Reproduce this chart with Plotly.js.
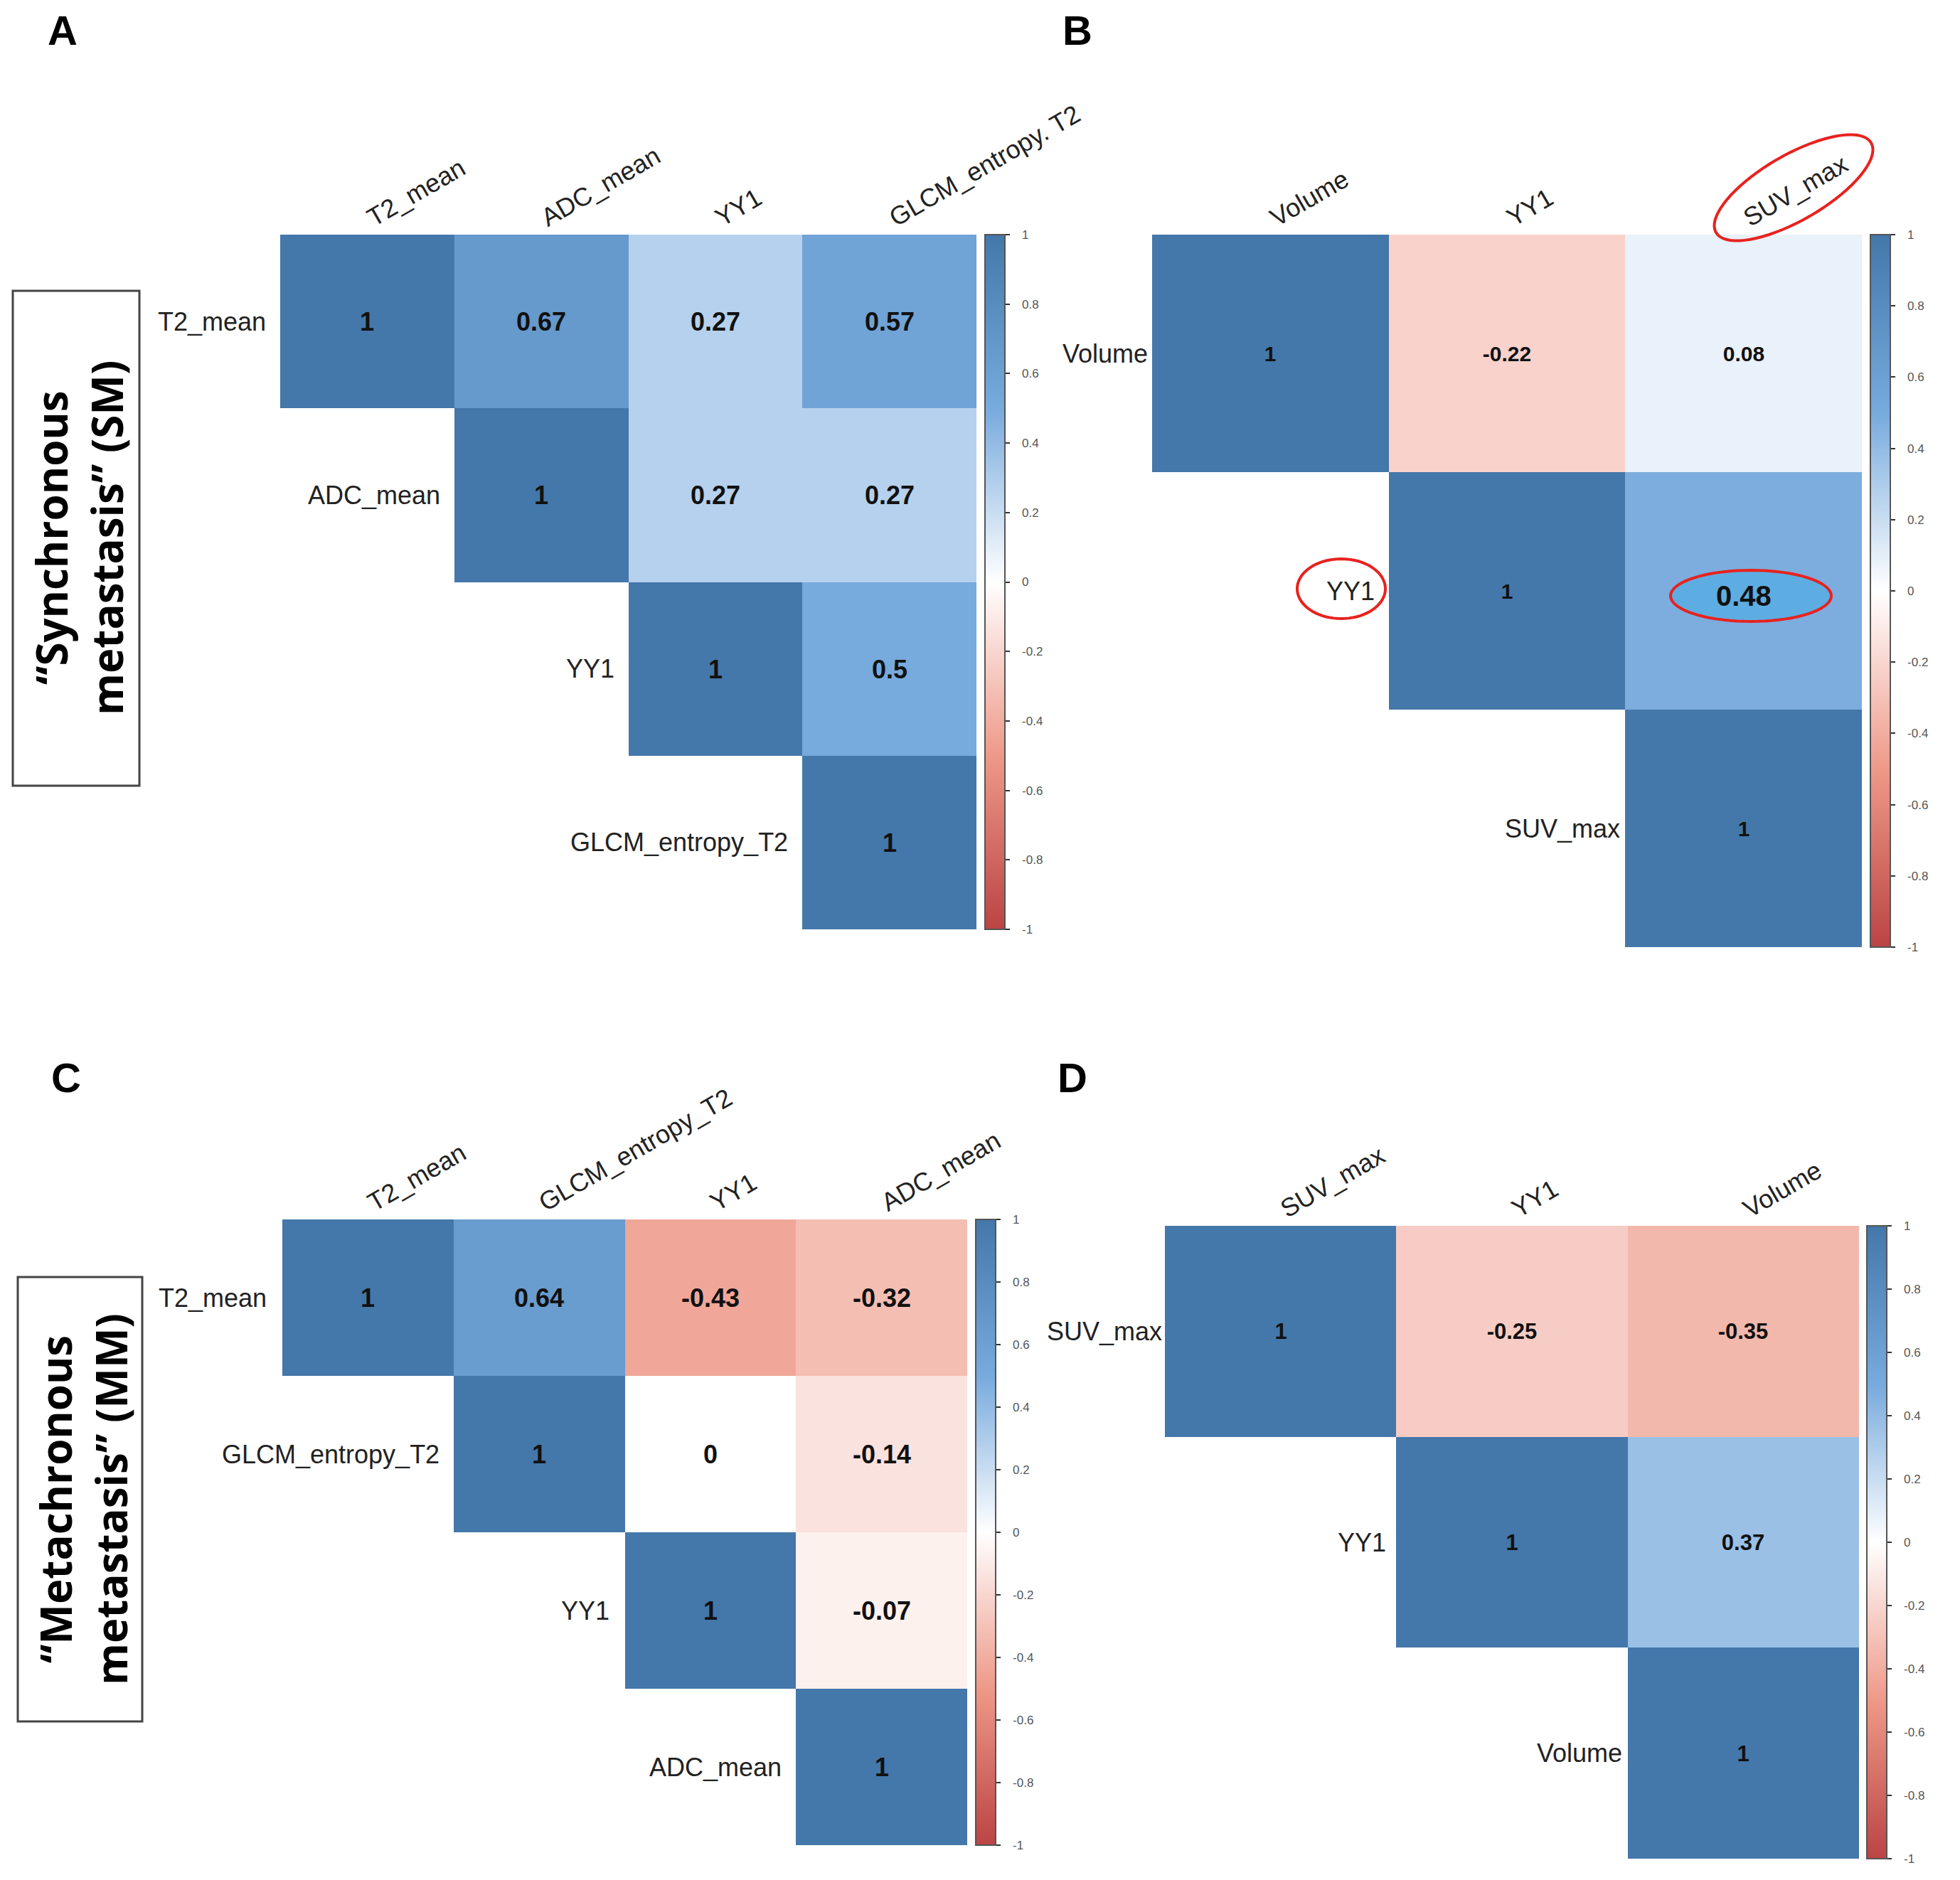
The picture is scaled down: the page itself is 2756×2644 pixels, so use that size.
<!DOCTYPE html>
<html>
<head>
<meta charset="utf-8">
<script src="https://cdn.plot.ly/plotly-3.0.1.min.js"></script>
<style>html,body{margin:0;padding:0;background:#fff;}#chart{width:2756px;height:2644px;}</style>
</head>
<body>
<div id="chart"></div>
<script>
// ---------- data ----------
const rowLabelsA = ['T2_mean', 'ADC_mean', 'YY1', 'GLCM_entropy_T2'];
const colLabelsA = ['T2_mean', 'ADC_mean', 'YY1', 'GLCM_entropy. T2'];
const valuesA = [
  [1, 0.67, 0.27, 0.57],
  [null, 1, 0.27, 0.27],
  [null, null, 1, 0.5],
  [null, null, null, 1]
];
const rowLabelsB = ['Volume', 'YY1', 'SUV_max'];
const colLabelsB = ['Volume', 'YY1', 'SUV_max'];
const valuesB = [
  [1, -0.22, 0.08],
  [null, 1, 0.48],
  [null, null, 1]
];
const rowLabelsC = ['T2_mean', 'GLCM_entropy_T2', 'YY1', 'ADC_mean'];
const colLabelsC = ['T2_mean', 'GLCM_entropy_T2', 'YY1', 'ADC_mean'];
const valuesC = [
  [1, 0.64, -0.43, -0.32],
  [null, 1, 0, -0.14],
  [null, null, 1, -0.07],
  [null, null, null, 1]
];
const rowLabelsD = ['SUV_max', 'YY1', 'Volume'];
const colLabelsD = ['SUV_max', 'YY1', 'Volume'];
const valuesD = [
  [1, -0.25, -0.35],
  [null, 1, 0.37],
  [null, null, 1]
];
const panelLetters = ['A', 'B', 'C', 'D'];
const groupTitles = ['“Synchronous<br>metastasis” (SM)', '“Metachronous<br>metastasis” (MM)'];
const cbTickVals = [1, 0.8, 0.6, 0.4, 0.2, 0, -0.2, -0.4, -0.6, -0.8, -1];
const cbTickText = ['1', '0.8', '0.6', '0.4', '0.2', '0', '-0.2', '-0.4', '-0.6', '-0.8', '-1'];

// ---------- layout geometry (pixels) ----------
const W = 2756, H = 2644;
const fx = p => p / W;
const fy = p => 1 - p / H;
const colorscale = [[0, '#BB4444'], [0.25, '#EE9988'], [0.5, '#FFFFFF'], [0.75, '#77AADD'], [1, '#4477AA']];
const LABEL_FONT = 'Liberation Sans, Arial, sans-serif';
const NBSP = '\u00a0\u00a0\u00a0';

const panels = [
  {rows: rowLabelsA, cols: colLabelsA, vals: valuesA, box: [394, 1373, 330, 1307], cb: 1385, cellFont: 36, gaps: [18, 18, 18, 18], skip: null},
  {rows: rowLabelsB, cols: colLabelsB, vals: valuesB, box: [1620, 2618, 330, 1332], cb: 2630, cellFont: 30, gaps: [4, 18, 5], skip: [1, 2]},
  {rows: rowLabelsC, cols: colLabelsC, vals: valuesC, box: [397, 1360, 1715, 2595], cb: 1372, cellFont: 36, gaps: [20, 18, 20, 18], skip: null},
  {rows: rowLabelsD, cols: colLabelsD, vals: valuesD, box: [1638, 2614, 1724, 2614], cb: 2625, cellFont: 31, gaps: [2, 12, 6], skip: null}
];

const traces = [];
const annotations = [];
const shapes = [];
const layout = {
  width: W, height: H,
  margin: {l: 0, r: 0, t: 0, b: 0},
  paper_bgcolor: '#fff', plot_bgcolor: 'rgba(0,0,0,0)',
  showlegend: false,
  annotations: annotations, shapes: shapes
};

panels.forEach((p, k) => {
  const n = p.rows.length;
  const sfx = k === 0 ? '' : String(k + 1);
  const idx = [...Array(n).keys()];
  const text = p.vals.map((r, i) => r.map((v, j) => {
    if (v === null) return '';
    if (p.skip && p.skip[0] === i && p.skip[1] === j) return '';
    return String(v);
  }));
  traces.push({
    type: 'heatmap', x: idx, y: idx, z: p.vals, text: text,
    texttemplate: '%{text}',
    textfont: {family: LABEL_FONT, size: p.cellFont, color: '#111', weight: 'bold'},
    xaxis: 'x' + sfx, yaxis: 'y' + sfx,
    zmin: -1, zmax: 1, colorscale: colorscale, hoverinfo: 'skip',
    xgap: 0, ygap: 0,
    colorbar: {
      x: fx(p.cb), xanchor: 'left', y: fy(p.box[2]), yanchor: 'top',
      len: p.box[3] - p.box[2], lenmode: 'pixels',
      thickness: 28, thicknessmode: 'pixels', xpad: 0, ypad: 0,
      outlinewidth: 2, outlinecolor: '#555',
      tickvals: cbTickVals, ticktext: cbTickText.map(t => NBSP + t),
      ticks: 'outside', ticklen: 6, tickwidth: 2, tickcolor: '#333',
      tickfont: {family: LABEL_FONT, size: 17, color: '#555'}
    }
  });
  layout['xaxis' + sfx] = {
    domain: [fx(p.box[0]), fx(p.box[1])], anchor: 'y' + sfx,
    range: [-0.5, n - 0.5], side: 'top',
    tickvals: idx, ticktext: p.cols, tickangle: -30,
    tickfont: {family: LABEL_FONT, size: 36, color: '#222'},
    showgrid: false, zeroline: false, showline: false, ticks: '', fixedrange: true
  };
  layout['yaxis' + sfx] = {
    domain: [fy(p.box[3]), fy(p.box[2])], anchor: 'x' + sfx,
    range: [n - 0.5, -0.5], showticklabels: false,
    showgrid: false, zeroline: false, showline: false, ticks: '', fixedrange: true
  };
  // row labels next to diagonal cells
  p.rows.forEach((lab, i) => {
    annotations.push({
      xref: 'x' + sfx, yref: 'y' + sfx, x: i - 0.5, y: i, text: lab,
      xanchor: 'right', yanchor: 'middle', xshift: -p.gaps[i], showarrow: false,
      font: {family: LABEL_FONT, size: 36, color: '#222'}
    });
  });
});

// panel letters
const letterPos = [[88, 42], [1515, 42], [93, 1515], [1508, 1515]];
panelLetters.forEach((L, i) => {
  annotations.push({
    xref: 'paper', yref: 'paper', x: fx(letterPos[i][0]), y: fy(letterPos[i][1]),
    xanchor: 'center', yanchor: 'middle', text: L, showarrow: false,
    font: {family: LABEL_FONT, size: 58, color: '#000', weight: 'bold'}
  });
});

// group boxes with rotated titles
const groupBoxes = [[18, 196, 409, 1105], [25, 200, 1796, 2421]];
groupBoxes.forEach((b, i) => {
  shapes.push({type: 'rect', xref: 'paper', yref: 'paper', x0: fx(b[0]), x1: fx(b[1]), y0: fy(b[3]), y1: fy(b[2]),
    line: {color: '#444', width: 3}, fillcolor: 'rgba(0,0,0,0)'});
  annotations.push({
    xref: 'paper', yref: 'paper', x: fx((b[0] + b[1]) / 2 + 4), y: fy((b[2] + b[3]) / 2),
    xanchor: 'center', yanchor: 'middle', textangle: -90, align: 'center',
    text: groupTitles[i], showarrow: false,
    font: {family: 'Open Sans, sans-serif', size: 60, color: '#000', weight: 700}
  });
});

// red highlight ellipses in panel B
function ellipsePath(cx, cy, a, b, angDeg) {
  const t = angDeg * Math.PI / 180;
  let d = '';
  for (let i = 0; i <= 72; i++) {
    const u = i / 72 * 2 * Math.PI;
    const ex = a * Math.cos(u), ey = b * Math.sin(u);
    const px = cx + ex * Math.cos(t) + ey * Math.sin(t);
    const py = cy - ex * Math.sin(t) + ey * Math.cos(t);
    d += (i === 0 ? 'M' : 'L') + fx(px).toFixed(5) + ',' + fy(py).toFixed(5);
  }
  return d + 'Z';
}
shapes.push({type: 'path', xref: 'paper', yref: 'paper', path: ellipsePath(2522, 264, 126, 46, 30),
  line: {color: '#E8221E', width: 4}, fillcolor: 'rgba(0,0,0,0)', layer: 'above'});
shapes.push({type: 'path', xref: 'paper', yref: 'paper', path: ellipsePath(1886, 828, 62, 42, 0),
  line: {color: '#E8221E', width: 4}, fillcolor: 'rgba(0,0,0,0)', layer: 'above'});
shapes.push({type: 'path', xref: 'paper', yref: 'paper', path: ellipsePath(2462, 838, 113, 36, 0),
  line: {color: '#E8221E', width: 4}, fillcolor: '#5DADE2', layer: 'above'});
annotations.push({
  xref: 'x2', yref: 'y2', x: 2, y: 1, text: String(valuesB[1][2]), showarrow: false,
  xanchor: 'center', yanchor: 'middle', yshift: -7,
  font: {family: LABEL_FONT, size: 40, color: '#111', weight: 'bold'}
});

Plotly.newPlot('chart', traces, layout, {staticPlot: true, displayModeBar: false});
</script>
</body>
</html>
